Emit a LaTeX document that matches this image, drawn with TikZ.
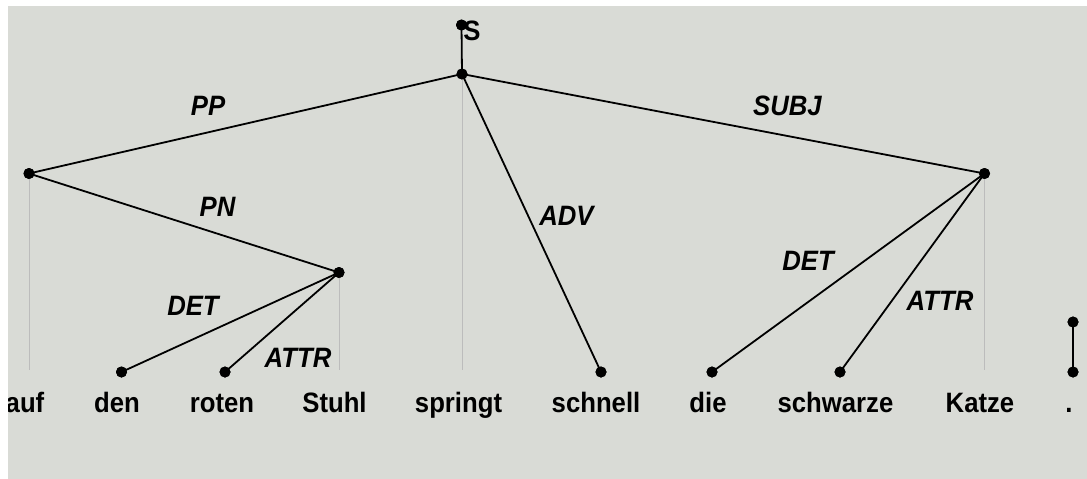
\documentclass[tikz,border=0pt]{standalone}
\usepackage{fontspec}
\setmainfont{Liberation Sans}
\definecolor{panelbg}{RGB}{217,219,214}
\definecolor{guidegray}{RGB}{188,188,188}
% text is set slightly taller than the font's natural shape
\newcommand{\tallbox}[1]{\scalebox{1}[1.09]{#1}}
\begin{document}
\begin{tikzpicture}[x=1pt,y=-1pt,
  dot/.style={circle,fill=black,inner sep=0pt,minimum size=11pt},
  dep/.style={black,line width=1.8pt},
  proj/.style={guidegray,line width=1pt},
  word/.style={font=\fontsize{25.7}{30}\selectfont\bfseries,anchor=base,inner sep=0pt},
  rel/.style={font=\fontsize{25.7}{30}\selectfont\bfseries\itshape,inner sep=0pt},
]
\useasboundingbox (0,0) rectangle (1087,479);
\fill[white] (0,0) rectangle (1087,479);
\fill[panelbg] (8,6) rectangle (1087,479);
\begin{scope}
\clip (8,6) rectangle (1087,479);

% tree nodes
\node[dot] (top)    at (461.5,25)  {};
\node[dot] (root)   at (462,74)    {};
\node[dot] (pp)     at (29,173.5)  {};
\node[dot] (pn)     at (339,272.5) {};
\node[dot] (subj)   at (984.5,173.5) {};
\node[dot] (den)    at (121.5,372) {};
\node[dot] (roten)  at (225,372)   {};
\node[dot] (schnell) at (601,372)  {};
\node[dot] (die)    at (712,372)   {};
\node[dot] (schwarze) at (840,372) {};
\node[dot] (ptop)   at (1073,322)  {};
\node[dot] (pbot)   at (1073,372)  {};

% ends of the projection lines
\coordinate (aufTip)     at (29,370);
\coordinate (springtTip) at (462,370);
\coordinate (stuhlTip)   at (339,370);
\coordinate (katzeTip)   at (984.5,370);

% projection lines
\draw[proj] (pp.center) -- (aufTip);
\draw[proj] (root.center) -- (springtTip);
\draw[proj] (pn.center) -- (stuhlTip);
\draw[proj] (subj.center) -- (katzeTip);

% dependency edges
\draw[dep] (top.center) -- (root.center);
\draw[dep] (root.center) -- (pp.center);
\draw[dep] (root.center) -- (subj.center);
\draw[dep] (root.center) -- (schnell.center);
\draw[dep] (pp.center) -- (pn.center);
\draw[dep] (pn.center) -- (den.center);
\draw[dep] (pn.center) -- (roten.center);
\draw[dep] (subj.center) -- (die.center);
\draw[dep] (subj.center) -- (schwarze.center);
\draw[dep] (ptop.center) -- (pbot.center);

% dots on top of the edges
\foreach \n in {top,root,pp,pn,subj,den,roten,schnell,die,schwarze,ptop,pbot}
  \fill (\n) circle (5.5pt);

% root label
\node[font=\fontsize{25.7}{30}\selectfont\bfseries,inner sep=0pt] (slabel) at (472,30.5) {\tallbox{S}};

% relation labels
\node[rel] (lpp)    at (208,106)   {\tallbox{PP}};
\node[rel] (lsubj)  at (787.5,106) {\tallbox{SUBJ}};
\node[rel] (lpn)    at (217.5,206.5) {\tallbox{PN}};
\node[rel] (ladv)   at (566.5,216) {\tallbox{ADV}};
\node[rel] (ldet1)  at (193,306)   {\tallbox{DET}};
\node[rel] (lattr1) at (298,358)   {\tallbox{ATTR}};
\node[rel] (ldet2)  at (808,261)   {\tallbox{DET}};
\node[rel] (lattr2) at (940,301)   {\tallbox{ATTR}};

% words
\node[word] (wauf)      at (25,412)    {\tallbox{auf}};
\node[word] (wden)      at (117,412)   {\tallbox{den}};
\node[word] (wroten)    at (222,412)   {\tallbox{roten}};
\node[word] (wstuhl)    at (334.5,412) {\tallbox{Stuhl}};
\node[word] (wspringt)  at (458.5,412) {\tallbox{springt}};
\node[word] (wschnell)  at (596,412)   {\tallbox{schnell}};
\node[word] (wdie)      at (708,412)   {\tallbox{die}};
\node[word] (wschwarze) at (835.5,412) {\tallbox{schwarze}};
\node[word] (wkatze)    at (980,412)   {\tallbox{Katze}};
\node[word] (wpunct)    at (1069,412)  {\tallbox{.}};
\end{scope}
\end{tikzpicture}
\end{document}
